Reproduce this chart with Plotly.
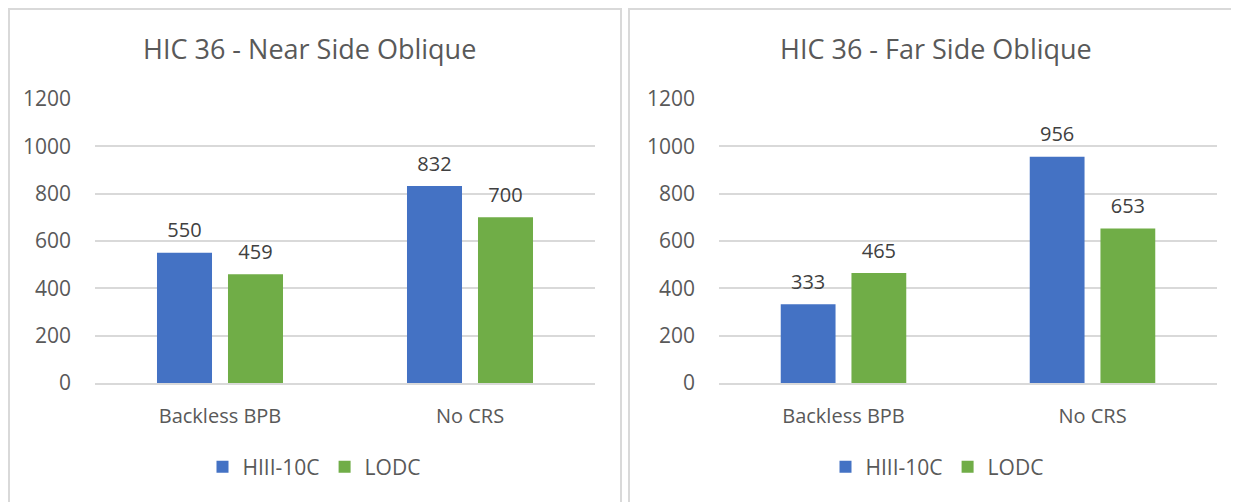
import plotly.graph_objects as go

categories = ["Backless BPB", "No CRS"]
series_names = ["HIII-10C", "LODC"]
near_hiii = [550, 832]
near_lodc = [459, 700]
far_hiii = [333, 956]
far_lodc = [465, 653]
titles = ["HIC 36 - Near Side Oblique", "HIC 36 - Far Side Oblique"]
tick_vals = [0, 200, 400, 600, 800, 1000, 1200]

BLUE = "#4472C4"
GREEN = "#70AD47"
TXT = "#595959"
LBL = "#404040"
GRID = "#D9D9D9"
FONT = "Open Sans"

W, H = 1239, 502
OFF = 8  # page body margin


def px(x):
    return (x - OFF) / W


def py(y):
    return 1 - (y - OFF) / H


fig = go.Figure()

panels = [
    dict(x="x", y="y", legend="legend", h=near_hiii, l=near_lodc),
    dict(x="x2", y="y2", legend="legend2", h=far_hiii, l=far_lodc),
]
for p in panels:
    for name, vals, col in [(series_names[0], p["h"], BLUE), (series_names[1], p["l"], GREEN)]:
        fig.add_trace(go.Bar(
            x=categories, y=vals, name=name, marker_color=col,
            marker_line_width=0,
            text=[f"<span style='font-size:20px'>{v}</span><br> " for v in vals],
            textposition="outside",
            textfont=dict(size=8, color=LBL, family=FONT),
            cliponaxis=False, hoverinfo="skip",
            xaxis=p["x"], yaxis=p["y"], legend=p["legend"],
        ))

ydom = [py(383), py(99)]
xtick = dict(size=20, color=TXT, family=FONT)
ytick = dict(size=21, color=TXT, family=FONT)
common_x = dict(showgrid=False, showline=True, linecolor=GRID, linewidth=1.5, ticks="",
                tickfont=xtick, ticklabelstandoff=14, automargin=False, fixedrange=True)
common_y = dict(range=[0, 1200], tickvals=tick_vals, showgrid=True, gridcolor=GRID,
                gridwidth=1.5, zeroline=False, showline=False, ticks="",
                tickfont=ytick, ticklabelstandoff=23, automargin=False, fixedrange=True)
leg = dict(orientation="h", xanchor="center", yanchor="middle", y=py(467),
           font=dict(size=21, color=TXT, family=FONT), itemwidth=30,
           bgcolor="rgba(0,0,0,0)", traceorder="normal")

fig.update_layout(
    width=W, height=H, margin=dict(l=0, r=0, t=0, b=0, autoexpand=False),
    paper_bgcolor="white", plot_bgcolor="white",
    barmode="group", bargap=0.432, bargroupgap=0.225,
    font=dict(family=FONT, color=TXT),
    xaxis=dict(domain=[px(95), px(595)], anchor="y", **common_x),
    yaxis=dict(domain=ydom, anchor="x", **common_y),
    xaxis2=dict(domain=[px(719), px(1217)], anchor="y2", **common_x),
    yaxis2=dict(domain=ydom, anchor="x2", **common_y),
    legend=dict(x=px(314), **leg),
    legend2=dict(x=px(937), **leg),
    shapes=[
        dict(type="rect", xref="paper", yref="paper", x0=px(9), x1=px(621),
             y0=-0.05, y1=py(9), line=dict(color=GRID, width=2)),
        dict(type="rect", xref="paper", yref="paper", x0=px(629), x1=1.05,
             y0=-0.05, y1=py(9), line=dict(color=GRID, width=2)),
    ],
    annotations=[
        dict(text=titles[0], x=px(309), y=py(48), xref="paper", yref="paper",
             xanchor="center", yanchor="middle", showarrow=False,
             font=dict(size=27, color=TXT, family=FONT)),
        dict(text=titles[1], x=px(936), y=py(48), xref="paper", yref="paper",
             xanchor="center", yanchor="middle", showarrow=False,
             font=dict(size=27, color=TXT, family=FONT)),
    ],
)

fig.write_html("out.html")
